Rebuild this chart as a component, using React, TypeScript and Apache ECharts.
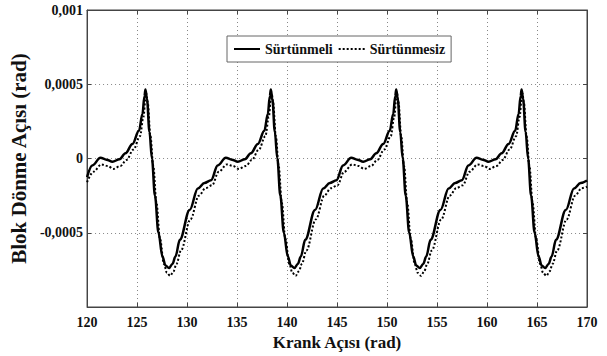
import React, { useEffect, useRef } from "react";
import * as echarts from "echarts";

const xTicks = [120, 125, 130, 135, 140, 145, 150, 155, 160, 165, 170];
const yTicks = [-0.001, -0.0005, 0, 0.0005, 0.001];
const seriesNames = ["Sürtünmeli", "Sürtünmesiz"];

const solidX = [
  120, 120.52,
  121.34, 121.94, 122.54, 123.24, 123.84, 124.54, 125.19, 125.54, 125.74, 125.84, 125.99, 126.24, 126.49, 126.79, 127.14, 127.54, 127.84, 128.2, 128.54, 128.84, 129.28, 130.26, 131.08, 131.74, 132.4, 133.06,
  133.88, 134.48, 135.08, 135.78, 136.38, 137.08, 137.73, 138.08, 138.28, 138.38, 138.53, 138.78, 139.03, 139.33, 139.68, 140.08, 140.38, 140.74, 141.08, 141.38, 141.82, 142.8, 143.62, 144.28, 144.94, 145.6,
  146.42, 147.02, 147.62, 148.32, 148.92, 149.62, 150.27, 150.62, 150.82, 150.92, 151.07, 151.32, 151.57, 151.87, 152.22, 152.62, 152.92, 153.28, 153.62, 153.92, 154.36, 155.34, 156.16, 156.82, 157.48, 158.14,
  158.96, 159.56, 160.16, 160.86, 161.46, 162.16, 162.81, 163.16, 163.36, 163.46, 163.61, 163.86, 164.11, 164.41, 164.76, 165.16, 165.46, 165.82, 166.16, 166.46, 166.9, 167.88, 168.7, 169.36, 170,
];
const solidY = [
  -0.000125, -0.000047,
  0.000005, -0.000008, -0.000022, -0.000005, 0.000035, 0.000098, 0.000187, 0.0003, 0.00042, 0.000465, 0.0004, 0.00018, 0.0, -0.00025, -0.0005, -0.00066, -0.00072, -0.000738, -0.00071, -0.00066, -0.000547, -0.000347, -0.000202, -0.000165, -0.000147, -0.000047,
  0.000005, -0.000008, -0.000022, -0.000005, 0.000035, 0.000098, 0.000187, 0.0003, 0.00042, 0.000465, 0.0004, 0.00018, 0.0, -0.00025, -0.0005, -0.00066, -0.00072, -0.000738, -0.00071, -0.00066, -0.000547, -0.000347, -0.000202, -0.000165, -0.000147, -0.000047,
  0.000005, -0.000008, -0.000022, -0.000005, 0.000035, 0.000098, 0.000187, 0.0003, 0.00042, 0.000465, 0.0004, 0.00018, 0.0, -0.00025, -0.0005, -0.00066, -0.00072, -0.000738, -0.00071, -0.00066, -0.000547, -0.000347, -0.000202, -0.000165, -0.000147, -0.000047,
  0.000005, -0.000008, -0.000022, -0.000005, 0.000035, 0.000098, 0.000187, 0.0003, 0.00042, 0.000465, 0.0004, 0.00018, 0.0, -0.00025, -0.0005, -0.00066, -0.00072, -0.000738, -0.00071, -0.00066, -0.000547, -0.000347, -0.000202, -0.000165, -0.000148,
];

const dottedX = [
  120, 120.62,
  121.44, 122.04, 122.64, 123.34, 123.94, 124.64, 125.29, 125.64, 125.84, 125.92, 126.06, 126.34, 126.62, 126.94, 127.29, 127.69, 127.99, 128.32, 128.64, 128.94, 129.39, 130.34, 131.19, 131.84, 132.5, 133.16,
  133.98, 134.58, 135.18, 135.88, 136.48, 137.18, 137.83, 138.18, 138.38, 138.46, 138.6, 138.88, 139.16, 139.48, 139.83, 140.23, 140.53, 140.86, 141.18, 141.48, 141.93, 142.88, 143.73, 144.38, 145.04, 145.7,
  146.52, 147.12, 147.72, 148.42, 149.02, 149.72, 150.37, 150.72, 150.92, 151.0, 151.14, 151.42, 151.7, 152.02, 152.37, 152.77, 153.07, 153.4, 153.72, 154.02, 154.47, 155.42, 156.27, 156.92, 157.58, 158.24,
  159.06, 159.66, 160.26, 160.96, 161.56, 162.26, 162.91, 163.26, 163.46, 163.54, 163.68, 163.96, 164.24, 164.56, 164.91, 165.31, 165.61, 165.94, 166.26, 166.56, 167.01, 167.96, 168.81, 169.46, 170,
];
const dottedY = [
  -0.00016, -0.00009,
  -0.00004, -0.00005, -0.00007, -0.00005, -0.00001, 0.00006, 0.00015, 0.00028, 0.0004, 0.00044, 0.00038, 0.00015, -0.00005, -0.0003, -0.00054, -0.00071, -0.00077, -0.00079, -0.00076, -0.00071, -0.00062, -0.00041, -0.00025, -0.0002, -0.00018, -0.00009,
  -0.00004, -0.00005, -0.00007, -0.00005, -0.00001, 0.00006, 0.00015, 0.00028, 0.0004, 0.00044, 0.00038, 0.00015, -0.00005, -0.0003, -0.00054, -0.00071, -0.00077, -0.00079, -0.00076, -0.00071, -0.00062, -0.00041, -0.00025, -0.0002, -0.00018, -0.00009,
  -0.00004, -0.00005, -0.00007, -0.00005, -0.00001, 0.00006, 0.00015, 0.00028, 0.0004, 0.00044, 0.00038, 0.00015, -0.00005, -0.0003, -0.00054, -0.00071, -0.00077, -0.00079, -0.00076, -0.00071, -0.00062, -0.00041, -0.00025, -0.0002, -0.00018, -0.00009,
  -0.00004, -0.00005, -0.00007, -0.00005, -0.00001, 0.00006, 0.00015, 0.00028, 0.0004, 0.00044, 0.00038, 0.00015, -0.00005, -0.0003, -0.00054, -0.00071, -0.00077, -0.00079, -0.00076, -0.00071, -0.00062, -0.00041, -0.00025, -0.0002, -0.00019,
];

const FONT = "Liberation Serif";

function fmtY(v: number): string {
  const r = Number(v.toFixed(5));
  if (Math.abs(r + 0.001) < 1e-9) return "";
  return String(r).replace(".", ",");
}

export default function App() {
  const ref = useRef<HTMLDivElement>(null);
  useEffect(() => {
    if (!ref.current) return;
    const chart = echarts.init(ref.current, undefined, { renderer: "svg" });
    const pair = (xs: number[], ys: number[]) => xs.map((x, i) => [x, ys[i]]);
    const axisCommon = {
      axisLine: { show: true, onZero: false, lineStyle: { color: "#444", width: 1 } },
      axisTick: { show: true, inside: true, length: 4, lineStyle: { color: "#444" } },
    };
    chart.setOption({
      animation: false,
      backgroundColor: "#fff",
      textStyle: { fontFamily: FONT },
      grid: { left: 79, right: 20, top: 10, bottom: 49, show: true, borderColor: "#444", borderWidth: 1 },
      legend: {
        data: seriesNames,
        left: 227,
        top: 36,
        padding: [6, 6],
        itemGap: 5,
        itemWidth: 26,
        itemHeight: 14,
        itemStyle: { opacity: 0 },
        backgroundColor: "#fff",
        borderColor: "#666",
        borderWidth: 1,
        borderRadius: 0,
        textStyle: { fontFamily: FONT, fontWeight: "bold", fontSize: 14, color: "#111" },
      },
      xAxis: [
        {
          type: "value",
          min: xTicks[0],
          max: xTicks[xTicks.length - 1],
          interval: 5,
          ...axisCommon,
          axisLabel: { fontFamily: FONT, fontWeight: "bold", fontSize: 14, color: "#111", margin: 8 },
          splitLine: { show: true, lineStyle: { type: [1, 3], color: "#888", width: 1 } },
          name: "Krank Açısı (rad)",
          nameLocation: "middle",
          nameGap: 26,
          nameTextStyle: { fontFamily: FONT, fontWeight: "bold", fontSize: 17, color: "#111", verticalAlign: "top" },
        },
        {
          type: "value",
          position: "top",
          min: xTicks[0],
          max: xTicks[xTicks.length - 1],
          interval: 5,
          ...axisCommon,
          axisLabel: { show: false },
          splitLine: { show: false },
        },
      ],
      yAxis: [
        {
          type: "value",
          min: yTicks[0],
          max: yTicks[yTicks.length - 1],
          interval: 0.0005,
          ...axisCommon,
          axisLabel: { fontFamily: FONT, fontWeight: "bold", fontSize: 14, color: "#111", margin: 4, formatter: fmtY },
          splitLine: { show: true, lineStyle: { type: [1, 3], color: "#888", width: 1 } },
          name: "Blok Dönme Açısı (rad)",
          nameLocation: "middle",
          nameGap: 41,
          nameTextStyle: { fontFamily: FONT, fontWeight: "bold", fontSize: 21, color: "#111" },
        },
        {
          type: "value",
          position: "right",
          min: yTicks[0],
          max: yTicks[yTicks.length - 1],
          interval: 0.0005,
          ...axisCommon,
          axisLabel: { show: false },
          splitLine: { show: false },
        },
      ],
      series: [
        {
          name: seriesNames[0],
          type: "line",
          data: pair(solidX, solidY),
          showSymbol: false,
          symbol: "none",
          smooth: 0.35,
          smoothMonotone: "x",
          lineStyle: { color: "#000", width: 2.5, type: "solid" },
          itemStyle: { color: "#000" },
          z: 3,
        },
        {
          name: seriesNames[1],
          type: "line",
          data: pair(dottedX, dottedY),
          showSymbol: false,
          symbol: "none",
          smooth: 0.35,
          smoothMonotone: "x",
          lineStyle: { color: "#000", width: 2, type: [2, 2] },
          itemStyle: { color: "#000" },
          z: 2,
        },
      ],
    });
    return () => chart.dispose();
  }, []);
  return (
    <div
      ref={ref}
      style={{ position: "fixed", left: 0, top: 0, width: 607, height: 356, background: "#fff" }}
    />
  );
}
